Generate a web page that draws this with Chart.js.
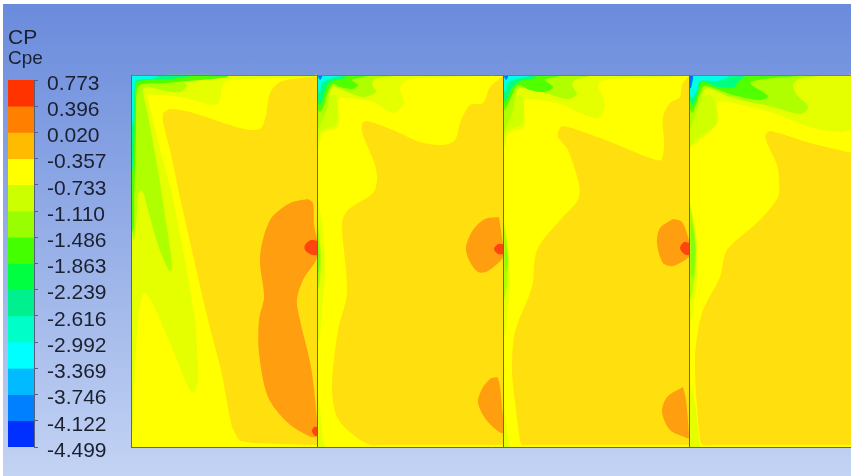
<!DOCTYPE html>
<html><head><meta charset="utf-8">
<style>
html,body{margin:0;padding:0;background:#fff;width:851px;height:476px;overflow:hidden}
#bg{position:absolute;left:3px;top:4px;right:0;bottom:0;background:linear-gradient(#6a8bdc,#c3d3f3)}
canvas{position:absolute;left:0;top:0}
</style>
<script src="https://cdn.jsdelivr.net/npm/chart.js@4"></script>
</head><body>
<div id="bg"></div>
<canvas id="field" width="851" height="476"></canvas>
<canvas id="scale" width="131" height="476"></canvas>
<script>
// colour-bar values, top to bottom
const tickLabels = ["0.773","0.396","0.020","-0.357","-0.733","-1.110","-1.486","-1.863","-2.239","-2.616","-2.992","-3.369","-3.746","-4.122","-4.499"];
const tickValues = [0.773,0.396,0.020,-0.357,-0.733,-1.110,-1.486,-1.863,-2.239,-2.616,-2.992,-3.369,-3.746,-4.122,-4.499];
const bandColors = ["#ff3300","#ff8000","#ffbb00","#ffff00","#ccff00","#99ff00","#44ff00","#00ff40","#00f090","#00ffc8","#00ffff","#00bbff","#0080ff","#0030ff"];

// traced contour outlines [x,y, x,y, ...] in plot units
const domain = [131,75, 851,75, 851,447, 131,447];

const p1Light = [131,75,134,75,314,75,317,75,317,77,314,77,250,79,226,81,222,88,220,100,216,105,200,102,180,97,150,95,148,98,152,115,163,160,171,190,183,250,195,320,197,350,198,380,193,393,187,385,175,355,160,320,152,302,145,293,142,297,138,320,135,370,133,420,131,444,131,447,131,444,131,78];
const p1Lime = [133,78,165,82,183,82,187,86,180,92,165,91,148,87,143,90,148,115,158,170,165,215,171,255,172,268,170,271,166,265,158,245,148,210,144,195,141,190,138,195,137,210,135,235,133,240,132,230,132,100];
const p1Green = [131,75,134,75,222,75,228,77,200,80,165,83,142,84,137,89,136,130,135,170,134,200,134,225,132,232,131,222,131,80];
const p1Teal = [131,75,134,75,186,75,190,76,170,79,145,80,136,83,135,110,134,150,133,168,132,170,131,150,131,80];
const p1Cyan = [132,76,135,76,156,76,158,77,150,79,137,80,135,84,134,100,133,125,132,120,132,80];
const p1Gold = [163,113,170,109,185,111,200,115,230,125,250,130,261,128,266,115,270,93,280,82,300,78,314,77,317,77,317,80,317,442,317,445,314,445,278,444,241,441,235,433,231,423,221,370,208,320,181,202,170,150,163,122];
const p1Orange = [308,199,313,203,314,225,317,240,317,258,303,280,297,300,300,320,311,367,317,420,317,436,311,437,288,423,268,397,259,353,259,320,264,297,260,257,270,220,290,203];
const p1RedA = [317,241,311,240,305,245,305,250,310,254,317,255,317,250,317,245];
const p1RedB = [317,427,314,427,312,431,314,435,317,436,317,433,317,430];

const p2Light = [317,75,320,75,500,75,503,75,503,76,500,76,443,77,407,80,400,88,404,103,393,113,373,102,343,98,338,100,338,127,323,133,318,150,317,152,317,148,317,78];
const p2Mid = [317,100,335,95,338,110,335,125,322,130,317,145,317,141,317,104];
const p2Lime = [317,76,320,76,390,76,395,76,375,79,372,84,376,92,363,97,345,91,333,87,329,98,327,110,318,130,317,135,317,131,317,80];
const p2Green = [318,76,321,76,364,76,368,76,352,80,358,85,352,89,340,87,333,84,328,92,324,105,320,112,318,110,318,106,318,80];
const p2Teal = [318,76,321,76,342,76,345,76,345,78,332,81,326,88,323,98,320,105,318,100,318,96,318,80];
const p2Cyan = [318,76,321,76,337,76,340,76,330,79,322,83,320,92,318,90,318,86,318,80];
const p2Blue = [318,76,322,76,320,80];
const p2Gold = [362,123,367,121,393,130,420,142,443,145,455,140,460,123,470,105,483,103,490,87,502,77,503,76,503,80,503,442,503,445,500,445,380,445,370,445,352,434,337,417,332,387,338,330,347,293,342,223,348,210,373,193,377,180,375,165,362,132];
const p2OrangeA = [499,217,485,219,473,230,466,247,469,260,478,272,488,271,503,258,503,254,503,248,503,245];
const p2Red = [503,244,498,244,494,249,498,254,503,254,503,251,503,247];
const p2OrangeB = [491,378,498,378,502,407,503,433,488,422,478,403,483,387];
const p2EdgeLight = [317,195,319,205,323,230,325,270,322,310,320,335,317,345,317,340,317,200];
const p2EdgeLime = [318,225,321,255,320,280,318,290,318,286,318,229];
const p2EdgeGreen = [318,240,320,255,319,270,318,275,318,271,318,244];
const p2FootLight = [317,390,320,410,322,430,324,444,325,447,322,447,317,447,317,444,317,394];

const p3Light = [503,75,506,75,686,75,689,75,689,76,686,76,640,78,605,80,598,85,602,95,605,107,598,118,580,113,560,104,530,99,524,101,524,127,509,133,504,150,503,152,503,148,503,78];
const p3Mid = [503,100,521,95,524,110,521,125,508,130,503,145,503,141,503,104];
const p3Lime = [503,76,506,76,586,76,590,76,575,80,572,85,577,94,568,99,545,93,520,88,515,98,513,110,505,130,503,135,503,131,503,80];
const p3Green = [504,76,507,76,556,76,560,76,545,80,553,87,544,92,530,90,518,85,512,95,508,104,505,110,504,107,504,103,504,80];
const p3Teal = [504,76,507,76,532,76,535,76,535,78,520,81,512,88,508,98,505,102,504,97,504,93,504,80];
const p3Cyan = [504,76,507,76,527,76,530,76,517,79,508,83,506,92,504,90,504,86,504,80];
const p3Blue = [504,76,508,76,506,80];
const p3Gold = [558,131,563,126,600,138,630,150,650,158,661,160,664,145,663,117,670,103,680,97,682,85,688,77,689,76,689,80,689,442,689,445,686,445,530,445,522,445,520,440,516,410,512,370,515,332,532,287,537,250,560,220,578,200,579,185,568,150,558,137];
const p3OrangeA = [673,219,660,228,657,243,663,263,673,266,689,257,689,252,689,245,689,240,682,222];
const p3Red = [689,243,684,242,680,248,684,254,689,255,689,252,689,246];
const p3OrangeB = [683,387,667,397,662,412,670,430,687,438,689,438,686,400];
const p3EdgeLight = [503,212,505,225,508,250,510,280,507,320,505,335,503,345,503,340,503,217];
const p3EdgeLime = [504,225,508,255,507,285,504,300,504,296,504,229];
const p3EdgeGreen = [505,237,507,255,506,273,505,269,505,241];
const p3FootLight = [503,390,505,410,507,430,509,444,510,447,507,447,503,447,503,444,503,394];

const p4Light = [689,75,692,75,848,75,851,75,851,78,851,127,851,130,848,131,840,132,813,128,773,113,727,102,717,103,717,123,697,143,690,147,689,150,689,146,689,78];
const p4Mid = [690,100,710,95,717,110,716,125,695,140,690,148,690,144,690,104];
const p4Lime = [690,76,693,76,816,76,820,76,800,79,793,85,797,95,808,106,805,112,798,114,773,107,730,97,707,88,702,95,697,110,692,125,690,130,690,126,690,80];
const p4Green = [690,76,693,76,796,76,800,76,765,79,750,83,768,96,760,100,733,95,705,86,700,93,695,107,692,113,690,108,690,104,690,80];
const p4Teal = [690,76,693,76,742,76,745,76,737,83,735,87,717,87,702,82,697,95,693,105,690,100,690,96,690,80];
const p4Cyan = [690,76,693,76,727,76,730,76,718,81,700,81,696,92,692,98,690,95,690,91,690,80];
const p4Blue = [690,76,693,76,691,88,690,88];
const p4Gold = [765,135,770,131,810,143,848,152,851,153,851,156,851,442,851,445,848,445,712,445,703,445,700,440,695,360,702,313,720,277,727,250,760,220,778,197,779,180,777,165,767,143];
const p4EdgeLight = [689,197,692,210,697,240,698,270,694,303,690,328,689,335,689,330,689,202];
const p4EdgeLime = [690,205,695,235,696,262,692,295,690,300,690,296,690,209];
const p4EdgeGreen = [691,217,695,245,693,277,691,273,691,221];
const p4FootLight = [689,380,693,395,696,410,699,440,700,447,697,447,689,447,689,444,689,384];

// frame lines
const frameXs = [131.5,317.5,503.5,689.5];
const frameTop = 75.5, frameBottom = 447.5, frameRight = 851;

const fieldColors = {yellow:"#ffff00",light:"#e6ff00",mid:"#d0ff00",lime:"#b0ff00",edge:"#80ff10",green:"#50ff00",teal:"#00ff80",cyan:"#00ffe6",blue:"#0070ff",gold:"#ffe00e",orange:"#ff9f10",red:"#ff4410"};

const layers = [
 ["yellow",domain,0],
 ["light",p1Light],["lime",p1Lime],["green",p1Green],["teal",p1Teal],["cyan",p1Cyan],["gold",p1Gold],["orange",p1Orange],["red",p1RedA],["red",p1RedB],
 ["light",p2EdgeLight],["lime",p2EdgeLime],["edge",p2EdgeGreen],["light",p2FootLight],
 ["light",p2Light],["mid",p2Mid],["lime",p2Lime],["green",p2Green],["teal",p2Teal],["cyan",p2Cyan],["blue",p2Blue],["gold",p2Gold],["orange",p2OrangeA],["red",p2Red],["orange",p2OrangeB],
 ["light",p3EdgeLight],["lime",p3EdgeLime],["edge",p3EdgeGreen],["light",p3FootLight],
 ["light",p3Light],["mid",p3Mid],["lime",p3Lime],["green",p3Green],["teal",p3Teal],["cyan",p3Cyan],["blue",p3Blue],["gold",p3Gold],["orange",p3OrangeA],["red",p3Red],["orange",p3OrangeB],
 ["light",p4EdgeLight],["lime",p4EdgeLime],["edge",p4EdgeGreen],["light",p4FootLight],
 ["light",p4Light],["mid",p4Mid],["lime",p4Lime],["green",p4Green],["teal",p4Teal],["cyan",p4Cyan],["blue",p4Blue],["gold",p4Gold]
];

function toPoints(flat){
  const pts=[];
  for(let i=0;i<flat.length;i+=2) pts.push({x:flat[i],y:flat[i+1]});
  pts.push({x:flat[0],y:flat[1]});
  return pts;
}
const fieldSets = layers.map(l=>({
  data:toPoints(l[1]),showLine:true,fill:'shape',
  backgroundColor:fieldColors[l[0]],borderWidth:0,pointRadius:0,
  tension:l[2]===0?0:0.3
}));
const frameSets = frameXs.map(x=>({data:[{x:x,y:frameTop},{x:x,y:frameBottom}],showLine:true,borderColor:"#6e6e1e",borderWidth:1,pointRadius:0,fill:false,tension:0}));
frameSets.push({data:[{x:frameXs[0],y:frameTop},{x:frameRight,y:frameTop}],showLine:true,borderColor:"#7f7f60",borderWidth:1,pointRadius:0,fill:false,tension:0});
frameSets.push({data:[{x:frameXs[0],y:frameBottom},{x:frameRight,y:frameBottom}],showLine:true,borderColor:"#6e6e1e",borderWidth:1,pointRadius:0,fill:false,tension:0});

// Chart.js paints the first dataset last, so reverse the back-to-front list
new Chart(document.getElementById('field'),{
  type:'scatter',
  data:{datasets:frameSets.concat(fieldSets.slice().reverse())},
  options:{
    responsive:false,animation:false,
    layout:{padding:0},
    plugins:{legend:{display:false},tooltip:{enabled:false}},
    scales:{
      x:{type:'linear',display:false,min:0,max:851},
      y:{type:'linear',display:false,min:0,max:476,reverse:true}
    }
  }
});

const bandSets = bandColors.map((c,i)=>({
  data:[[tickValues[i+1],tickValues[i]]],backgroundColor:c,borderWidth:0,
  barPercentage:1,categoryPercentage:1,grouped:false
}));
new Chart(document.getElementById('scale'),{
  type:'bar',
  data:{labels:[''],datasets:bandSets},
  options:{
    responsive:false,animation:false,
    layout:{padding:{left:8,top:0,bottom:29,right:0}},
    plugins:{
      legend:{display:false},tooltip:{enabled:false},
      title:{display:true,text:'CP',align:'start',color:'#1b2030',font:{family:'Liberation Sans',size:21,weight:'normal',lineHeight:1},padding:{top:28,bottom:0}},
      subtitle:{display:true,text:'Cpe',align:'start',color:'#1b2030',font:{family:'Liberation Sans',size:19,weight:'normal',lineHeight:1},padding:{top:0,bottom:12}}
    },
    scales:{
      x:{display:true,offset:true,ticks:{display:false},border:{display:false},grid:{display:true,drawTicks:false,color:'#556080',lineWidth:1,offset:true}},
      y:{
        position:'right',min:tickValues[14],max:tickValues[0],
        afterBuildTicks:s=>{s.ticks=tickValues.map(v=>({value:v}));},
        afterFit:s=>{s.width=97;},
        border:{display:true,color:'#556080'},
        grid:{drawOnChartArea:false,drawTicks:true,tickLength:4,color:'#556080'},
        ticks:{autoSkip:false,padding:9,labelOffset:4,color:'#1b2030',font:{family:'Liberation Sans',size:21},
          callback:(v,i)=>tickLabels[i]}
      }
    }
  }
});
</script>
</body></html>
